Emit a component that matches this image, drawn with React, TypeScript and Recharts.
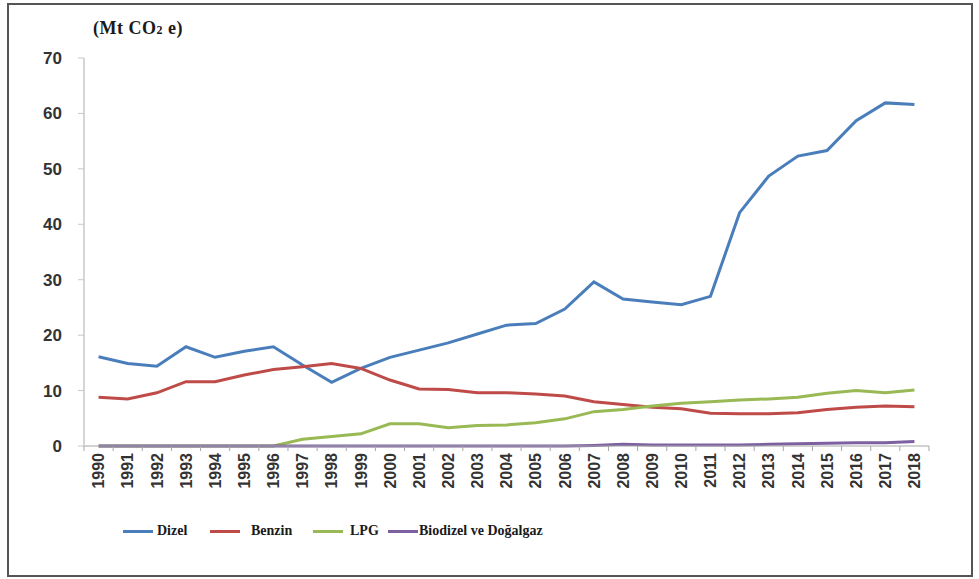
import React from "react";
import { LineChart, Line, XAxis, YAxis, Legend } from "recharts";

const years = ["1990","1991","1992","1993","1994","1995","1996","1997","1998","1999","2000","2001","2002","2003","2004","2005","2006","2007","2008","2009","2010","2011","2012","2013","2014","2015","2016","2017","2018"];
const dizel = [16.1,14.9,14.4,17.9,16.0,17.1,17.9,14.6,11.5,14.0,16.0,17.3,18.6,20.2,21.8,22.1,24.7,29.6,26.5,26.0,25.5,27.0,42.1,48.7,52.3,53.3,58.7,61.9,61.6];
const benzin = [8.8,8.5,9.6,11.6,11.6,12.8,13.8,14.3,14.9,14.0,11.9,10.3,10.2,9.6,9.6,9.4,9.0,8.0,7.5,7.0,6.7,5.9,5.8,5.8,6.0,6.6,7.0,7.2,7.1];
const lpg = [0,0,0,0,0,0,0,1.2,1.7,2.2,4.0,4.0,3.3,3.7,3.8,4.2,4.9,6.2,6.6,7.2,7.7,8.0,8.3,8.5,8.8,9.5,10.0,9.6,10.1];
const biodizel = [0,0,0,0,0,0,0,0,0,0,0,0,0,0,0,0,0,0.1,0.3,0.2,0.2,0.2,0.2,0.3,0.4,0.5,0.6,0.6,0.8];
const yTicks = [0,10,20,30,40,50,60,70];

const seriesNames = ["Dizel", "Benzin", "LPG", "Biodizel ve Doğalgaz"];
const seriesKeys = ["dizel", "benzin", "lpg", "biodizel"];
const seriesColors = ["#4a7ebb", "#be4b48", "#98b954", "#7d60a0"];

const data = years.map((y, i) => ({
  year: y,
  dizel: dizel[i],
  benzin: benzin[i],
  lpg: lpg[i],
  biodizel: biodizel[i],
}));

const W = 979;
const H = 579;
const PLOT_W = 845;
const HALF = PLOT_W / years.length / 2;

const XTick = (props: any) => {
  const { x, y, payload, index } = props;
  return (
    <g>
      {index === 0 && (
        <line x1={x - HALF} x2={x - HALF} y1={y} y2={y + 5} stroke="#a6a6a6" strokeWidth={1} />
      )}
      <line x1={x + HALF} x2={x + HALF} y1={y} y2={y + 5} stroke="#a6a6a6" strokeWidth={1} />
      <text
        x={x}
        y={y + 7}
        transform={`rotate(-90, ${x}, ${y + 7})`}
        textAnchor="end"
        dy="0.36em"
        fontFamily="'Liberation Sans', Arial, sans-serif"
        fontWeight="bold"
        fontSize={16}
        fill="#333"
      >
        {payload.value}
      </text>
    </g>
  );
};

const legendPos = [
  { line: 123, text: 157 },
  { line: 210, text: 251 },
  { line: 313, text: 350 },
  { line: 388, text: 419 },
];

const LegendContent = () => (
  <div style={{ position: "relative", width: W, height: 24 }}>
    {seriesNames.map((n, i) => (
      <React.Fragment key={n}>
        <div
          style={{
            position: "absolute",
            left: legendPos[i].line,
            top: 11,
            width: 30,
            height: 3,
            background: seriesColors[i],
          }}
        />
        <div
          style={{
            position: "absolute",
            left: legendPos[i].text,
            top: 2,
            fontFamily: "'Liberation Serif', 'Times New Roman', serif",
            fontWeight: "bold",
            fontSize: 14,
            color: "#1a1a1a",
            whiteSpace: "nowrap",
            lineHeight: "20px",
          }}
        >
          {n}
        </div>
      </React.Fragment>
    ))}
  </div>
);

export default function App() {
  return (
    <div style={{ position: "absolute", left: 0, top: 0, width: W, height: H, background: "#fff" }}>
      <div
        style={{
          position: "absolute",
          left: 7,
          top: 3,
          width: 966,
          height: 574,
          border: "2px solid #555",
          boxSizing: "border-box",
        }}
      />
      <div
        style={{
          position: "absolute",
          left: 93,
          top: 17,
          fontFamily: "'Liberation Serif', 'Times New Roman', serif",
          fontWeight: "bold",
          fontSize: 18,
          color: "#1a1a1a",
          whiteSpace: "nowrap",
          lineHeight: "22px",
          letterSpacing: 0.5,
        }}
      >
        (Mt CO<span style={{ fontSize: 12 }}>2</span> e)
      </div>
      <div style={{ position: "absolute", left: 0, top: 0 }}>
        <LineChart width={W} height={H} data={data} margin={{ top: 58, right: 50, left: 24, bottom: 78 }}>
          <XAxis
            dataKey="year"
            interval={0}
            height={55}
            padding={{ left: HALF, right: HALF }}
            tickLine={false}
            tickSize={0}
            tickMargin={0}
            axisLine={{ stroke: "#a6a6a6", strokeWidth: 1 }}
            tick={<XTick />}
          />
          <YAxis
            width={60}
            domain={[0, 70]}
            ticks={yTicks}
            interval={0}
            tickSize={6}
            tickMargin={16}
            axisLine={{ stroke: "#c8c8c8", strokeWidth: 1.5 }}
            tickLine={{ stroke: "#c8c8c8" }}
            tick={{
              fontFamily: "'Liberation Sans', Arial, sans-serif",
              fontWeight: "bold",
              fontSize: 17,
              fill: "#333",
            }}
          />
          <Legend
            layout="horizontal"
            verticalAlign="middle"
            align="center"
            content={<LegendContent />}
            wrapperStyle={{ top: 519, left: 0, width: W }}
          />
          {seriesKeys.map((k, i) => (
            <Line
              key={k}
              type="linear"
              dataKey={k}
              name={seriesNames[i]}
              stroke={seriesColors[i]}
              strokeWidth={3}
              dot={false}
              activeDot={false}
              isAnimationActive={false}
            />
          ))}
        </LineChart>
      </div>
    </div>
  );
}
